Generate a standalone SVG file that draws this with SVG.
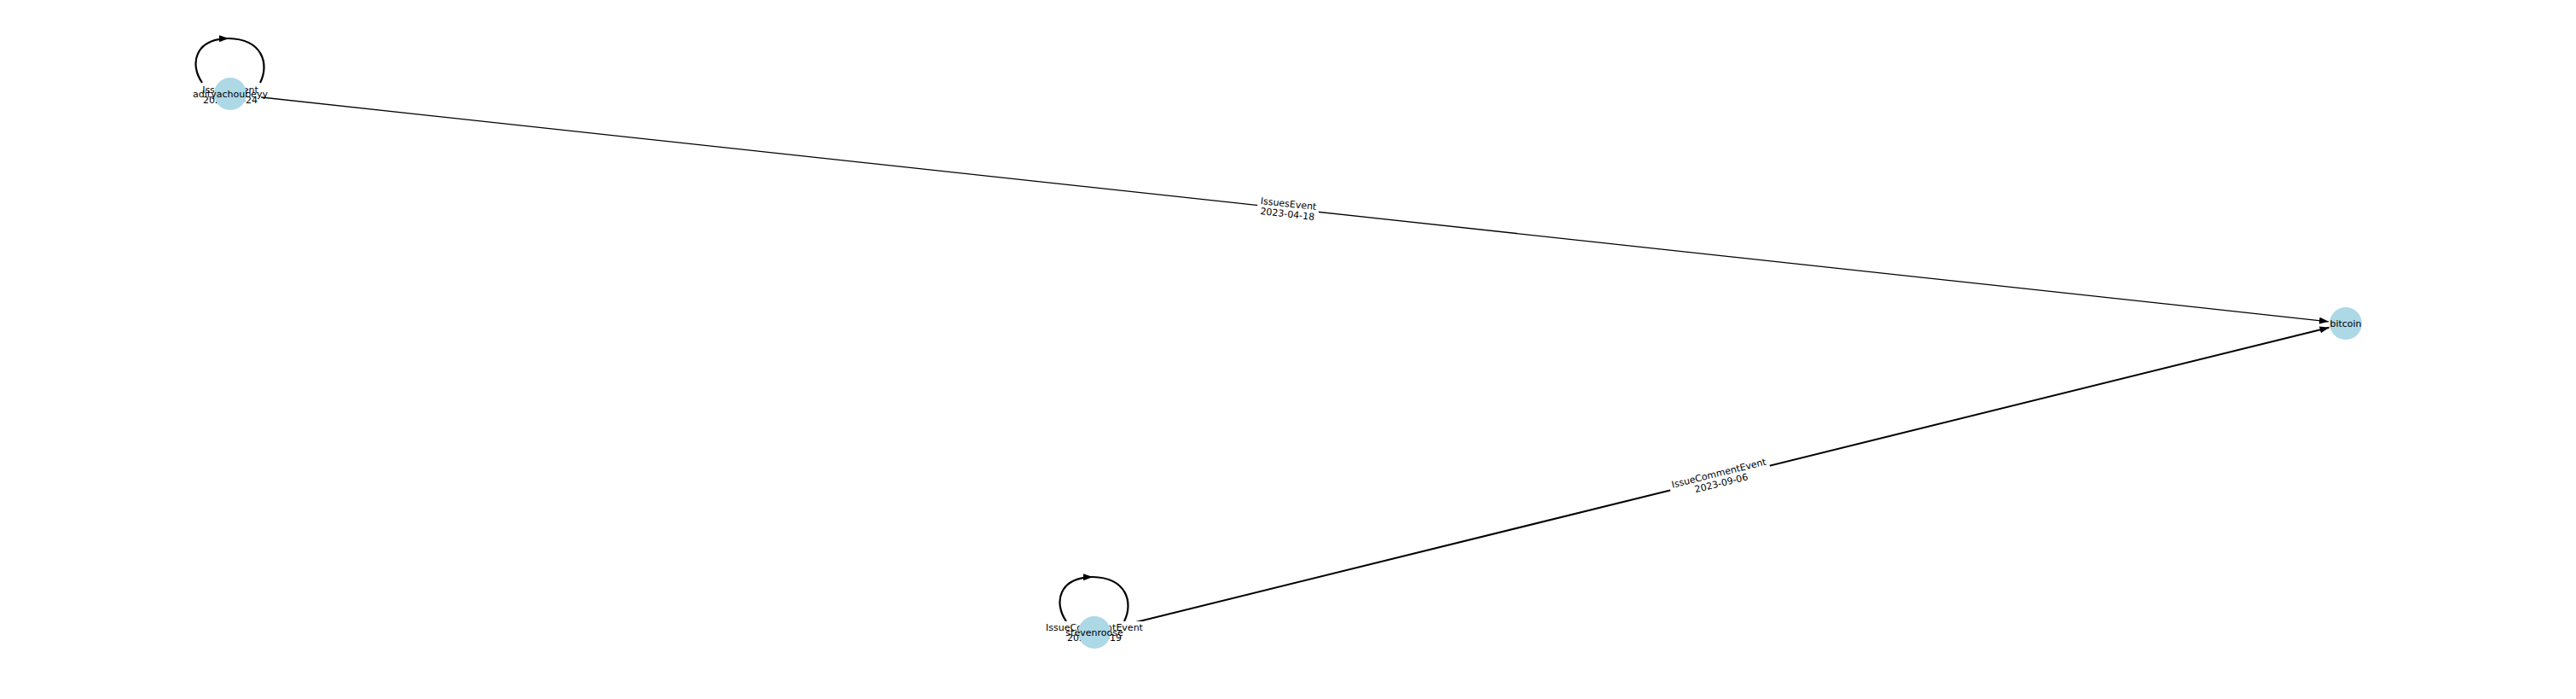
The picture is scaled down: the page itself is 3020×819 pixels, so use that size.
<svg xmlns="http://www.w3.org/2000/svg" width="3020" height="819" viewBox="0 0 3020 819">
<style>
.edge{fill:none;stroke:#000;stroke-width:1.3}
.edge2{fill:none;stroke:#000;stroke-width:2}
.loop{fill:none;stroke:#000;stroke-width:2.2}
.node{fill:#add8e6}
text{font-family:"DejaVu Sans","Liberation Sans",sans-serif;font-size:11px;fill:#000;text-anchor:middle}
.lbg{fill:#fff}
</style>
<defs>
<marker id="arr" markerUnits="userSpaceOnUse" markerWidth="12" markerHeight="8" refX="11" refY="4" orient="auto">
<path d="M0,0 L11,4 L0,8 Z" fill="#000"/>
</marker>
</defs>
<rect width="3020" height="819" fill="#fff"/>
<g id="connectors">
<path class="edge" d="M270 110 L2730 376.8" marker-end="url(#arr)"/>
<path class="edge2" d="M1283 741 L2730.6 383.8" marker-end="url(#arr)"/>
<path class="loop" d="M237 97 C222 75 228 46 268 45" marker-end="url(#arr)"/>
<path class="loop" d="M268 45 C308 46 316 75 305 97"/>
<path class="loop" d="M1250 728 C1235 706 1241 677 1281 676" marker-end="url(#arr)"/>
<path class="loop" d="M1281 676 C1321 677 1329 706 1318 728"/>
<g id="edge-label-1" transform="translate(1510,244.5) rotate(6.19)">
<rect class="lbg" x="-36" y="-13" width="72" height="26"/>
<text y="-2">IssuesEvent</text>
<text y="10">2023-04-18</text>
</g>
<g id="edge-label-2" transform="translate(2016.5,560) rotate(-13.86)">
<rect class="lbg" x="-60" y="-13" width="120" height="26"/>
<text y="-2">IssueCommentEvent</text>
<text y="10">2023-09-06</text>
</g>
<g id="loop-label-1">
<rect class="lbg" x="234" y="98" width="72" height="25"/>
<text x="270" y="109">IssuesEvent</text>
<text x="270" y="121">2023-04-24</text>
</g>
<g id="loop-label-2">
<rect class="lbg" x="1224" y="728" width="118" height="25"/>
<text x="1283" y="739">IssueCommentEvent</text>
<text x="1283" y="751">2023-09-19</text>
</g>
</g>
<g id="node-adityachoubeyy">
<circle class="node" cx="270" cy="110" r="19"/>
<text x="270" y="114">adityachoubeyy</text>
</g>
<g id="node-bitcoin">
<circle class="node" cx="2750" cy="379" r="19"/>
<text x="2750" y="383">bitcoin</text>
</g>
<g id="node-stevenroose">
<circle class="node" cx="1283" cy="741" r="19"/>
<text x="1283" y="745">stevenroose</text>
</g>
</svg>
